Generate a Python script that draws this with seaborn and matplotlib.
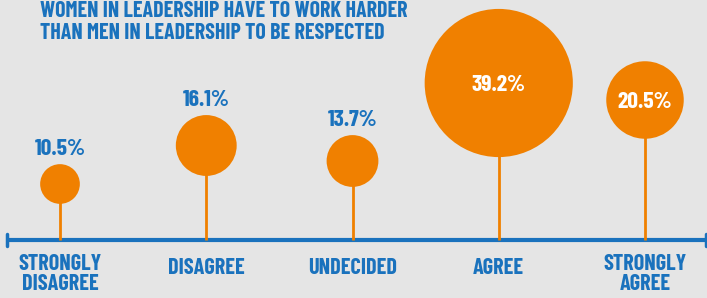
import numpy as np
import pandas as pd
import seaborn as sns
import matplotlib.pyplot as plt

categories = ['STRONGLY\nDISAGREE', 'DISAGREE', 'UNDECIDED', 'AGREE', 'STRONGLY\nAGREE']
values = [10.5, 16.1, 13.7, 39.2, 20.5]
title = 'WOMEN IN LEADERSHIP HAVE TO WORK HARDER\nTHAN MEN IN LEADERSHIP TO BE RESPECTED'

# layout: height of each circle centre above the axis line (px)
stem_heights = [55.5, 94, 78.5, 156.5, 139.5]
inside_label = [False, False, False, True, True]

BG = '#e5e5e5'
ORANGE = '#f08000'
BLUE = '#1a72bd'
FONT = ['Barlow Condensed', 'DejaVu Sans']
PX_PER_PCT = 1.89  # circle radius in px per percent

sns.set_theme(style='white')
plt.rcParams['font.family'] = FONT

df = pd.DataFrame({'cat': categories, 'value': values, 'h': stem_heights})
df['x'] = np.arange(len(df))
df['r'] = df['value'] * PX_PER_PCT
# scatter size is in pt^2, 1 px = 0.72 pt at dpi 100
df['s'] = (2 * df['r'] * 0.72) ** 2

fig = plt.figure(figsize=(7.07, 2.98), dpi=100, facecolor=BG)
ax = fig.add_axes([0, 0, 1, 1])
ax.set_facecolor(BG)

# x: category index, centre of first at px 60, step 146.25 px
step = 146.25
ax.set_xlim(-60 / step, (707 - 60) / step)
ax.set_ylim(-58.5, 239.5)

# axis line
ax.plot([(7 - 60) / step, (707 - 60) / step], [0, 0], color=BLUE, lw=3, solid_capstyle='butt', zorder=1)
ax.plot([(7 - 60) / step] * 2, [-6, 6], color=BLUE, lw=2.5, zorder=1)
ax.plot([(706 - 60) / step] * 2, [-6, 6], color=BLUE, lw=2.5, zorder=1)

# stems
ax.vlines(df['x'], 0, df['h'], color=ORANGE, lw=2, zorder=2)

sns.scatterplot(data=df, x='x', y='h', size='value',
                sizes=dict(zip(df['value'], df['s'])),
                color=ORANGE, linewidth=0, legend=False, ax=ax, zorder=3)

for i, row in df.iterrows():
    lbl = f"{row['value']:.1f}%"
    if inside_label[i]:
        ax.text(row['x'], row['h'], lbl, color='white', fontsize=17, fontweight='bold',
                ha='center', va='center_baseline', zorder=4)
    else:
        ax.text(row['x'], row['h'] + row['r'] + 17, lbl, color=BLUE, fontsize=17,
                fontweight='bold', ha='center', va='center_baseline', zorder=4)
    cat_y = -15 if '\n' in row['cat'] else -18
    ax.text(row['x'], cat_y, row['cat'], color=BLUE, fontsize=16, fontweight='bold',
            ha='center', va='top', linespacing=0.95)

fig.text(40 / 707, 1 - 1 / 298, title, color=BLUE, fontsize=15.8, fontweight='bold',
         ha='left', va='top', linespacing=1.1)

ax.set_axis_off()
fig.savefig('out.png', dpi=100, facecolor=BG)
